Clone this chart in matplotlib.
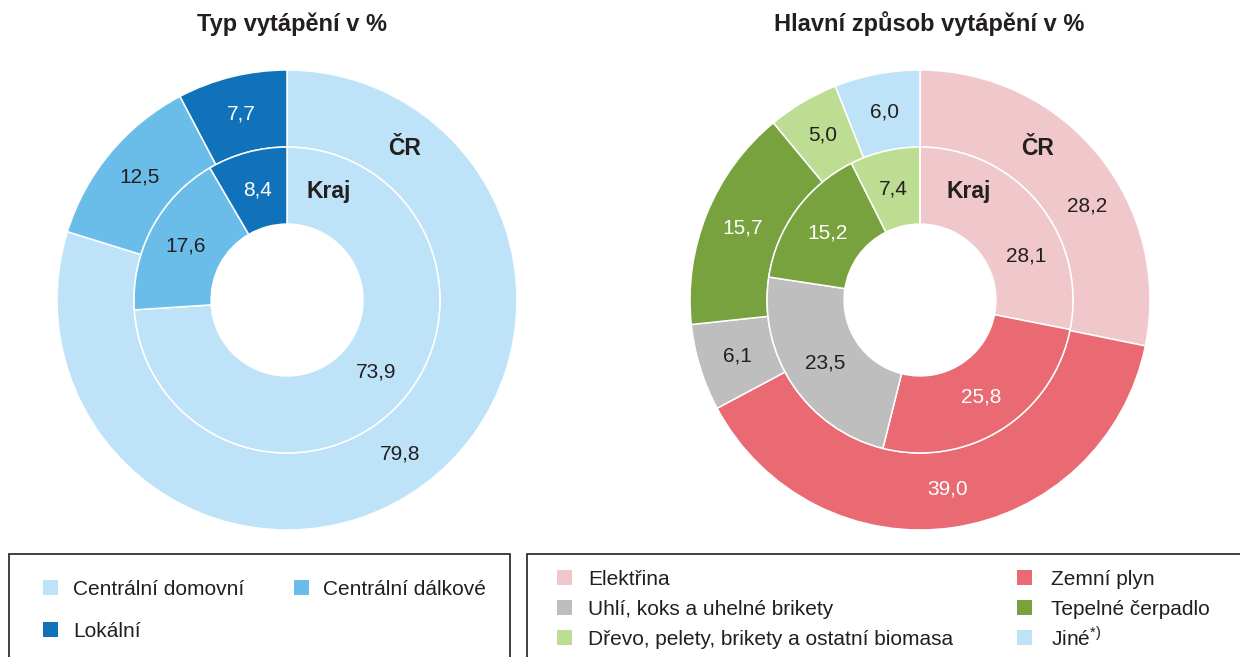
import numpy as np
import matplotlib
matplotlib.use('Agg')
from matplotlib import pyplot as plt
from matplotlib.patches import Rectangle

plt.rcParams['font.family'] = ['Liberation Sans', 'DejaVu Sans']
plt.rcParams['mathtext.fontset'] = 'custom'
plt.rcParams['mathtext.rm'] = 'Liberation Sans'

# data
typ_labels = ['Centrální domovní', 'Centrální dálkové', 'Lokální']
typ_cr = [79.8, 12.5, 7.7]
typ_kraj = [73.9, 17.6, 8.4]

zpusob_labels = ['Elektřina', 'Zemní plyn', 'Uhlí, koks a uhelné brikety',
                 'Tepelné čerpadlo', 'Dřevo, pelety, brikety a ostatní biomasa',
                 'Jiné$^{*)}$']
zpusob_cr = [28.2, 39.0, 6.1, 15.7, 5.0, 6.0]
zpusob_kraj = [28.1, 25.8, 23.5, 15.2, 7.4, 0.0]

# styles
DARK = '#231f20'
typ_colors = ['#bee3f8', '#6bbde9', '#0f72ba']
typ_txt = [DARK, DARK, 'white']
zpusob_colors = ['#f0c8cc', '#e96a72', '#bebebe', '#78a23e', '#bddd92', '#bee3f8']
zpusob_txt = [DARK, 'white', DARK, 'white', DARK, DARK]

W, H = 1240, 657
R = 230  # outer radius in px
fig = plt.figure(figsize=(W / 100, H / 100), dpi=100)


def fx(x):
    return x / W


def fy(y):
    return 1 - y / H


def ring(ax, vals, colors, txt_colors, radius, width, shifts):
    wedges, _ = ax.pie(vals, radius=radius, colors=colors, startangle=90,
                       counterclock=False,
                       wedgeprops=dict(width=width, edgecolor='white', linewidth=1.1))
    for w, v, c, s in zip(wedges, vals, txt_colors, shifts):
        if v == 0:
            continue
        a = np.deg2rad((w.theta1 + w.theta2) / 2 + s)
        r = radius - width / 2
        ax.text(r * np.cos(a), r * np.sin(a), ('%.1f' % v).replace('.', ','),
                ha='center', va='center', fontsize=15, color=c)


def donut(cx, cy, cr, kraj, colors, txt_colors, cr_shift, kraj_shift, kraj_x):
    ax = fig.add_axes([fx(cx - R), fy(cy + R), 2 * R / W, 2 * R / H])
    ring(ax, cr, colors, txt_colors, 1.0, 1 - 0.665, cr_shift)
    ring(ax, kraj, colors, txt_colors, 0.665, 0.665 - 0.33, kraj_shift)
    ax.set_xlim(-1, 1)
    ax.set_ylim(-1, 1)
    ax.axis('off')
    ax.text(kraj_x, 0.47, 'Kraj', ha='center', va='center', fontsize=16.5,
            fontweight='bold', color=DARK)
    ax.text(0.513, 0.66, 'ČR', ha='center', va='center', fontsize=16.5,
            fontweight='bold', color=DARK)
    return ax


donut(287, 300, typ_cr, typ_kraj, typ_colors, typ_txt,
      [0, 0, 0], [4, 0, 0], 0.183)
donut(920, 300, zpusob_cr, zpusob_kraj, zpusob_colors, zpusob_txt,
      [-10, 0, 0, 0, 0, 0], [-17, 0, 0, 0, 0, 0], 0.213)

fig.text(fx(292), fy(31), 'Typ vytápění v %', ha='center', va='baseline',
         fontsize=17, fontweight='bold', color=DARK)
fig.text(fx(929), fy(31), 'Hlavní způsob vytápění v %', ha='center', va='baseline',
         fontsize=17, fontweight='bold', color=DARK)

# legend boxes
for x0, x1 in [(9, 510), (527, 1260)]:
    fig.add_artist(Rectangle((fx(x0), fy(720)), (x1 - x0) / W, (720 - 554) / H,
                             transform=fig.transFigure, fill=False,
                             edgecolor=DARK, linewidth=1.2))

# legend entries: (marker x, baseline y, text x)
typ_leg_pos = [(43, 595, 73), (294, 595, 323), (43, 637, 73)]
zpusob_leg_pos = [(557, 585, 588), (1017, 585, 1051),
                  (557, 615, 588), (1017, 615, 1051),
                  (557, 645, 588), (1017, 645, 1051)]

for labels, colors, pos in [(typ_labels, typ_colors, typ_leg_pos),
                            (zpusob_labels, zpusob_colors, zpusob_leg_pos)]:
    for lab, col, (mx, by, tx) in zip(labels, colors, pos):
        fig.add_artist(Rectangle((fx(mx), fy(by)), 15 / W, 15 / H,
                                 transform=fig.transFigure, color=col, linewidth=0))
        fig.text(fx(tx), fy(by), lab, ha='left', va='baseline', fontsize=15, color=DARK)

fig.savefig('out.png', dpi=100)
